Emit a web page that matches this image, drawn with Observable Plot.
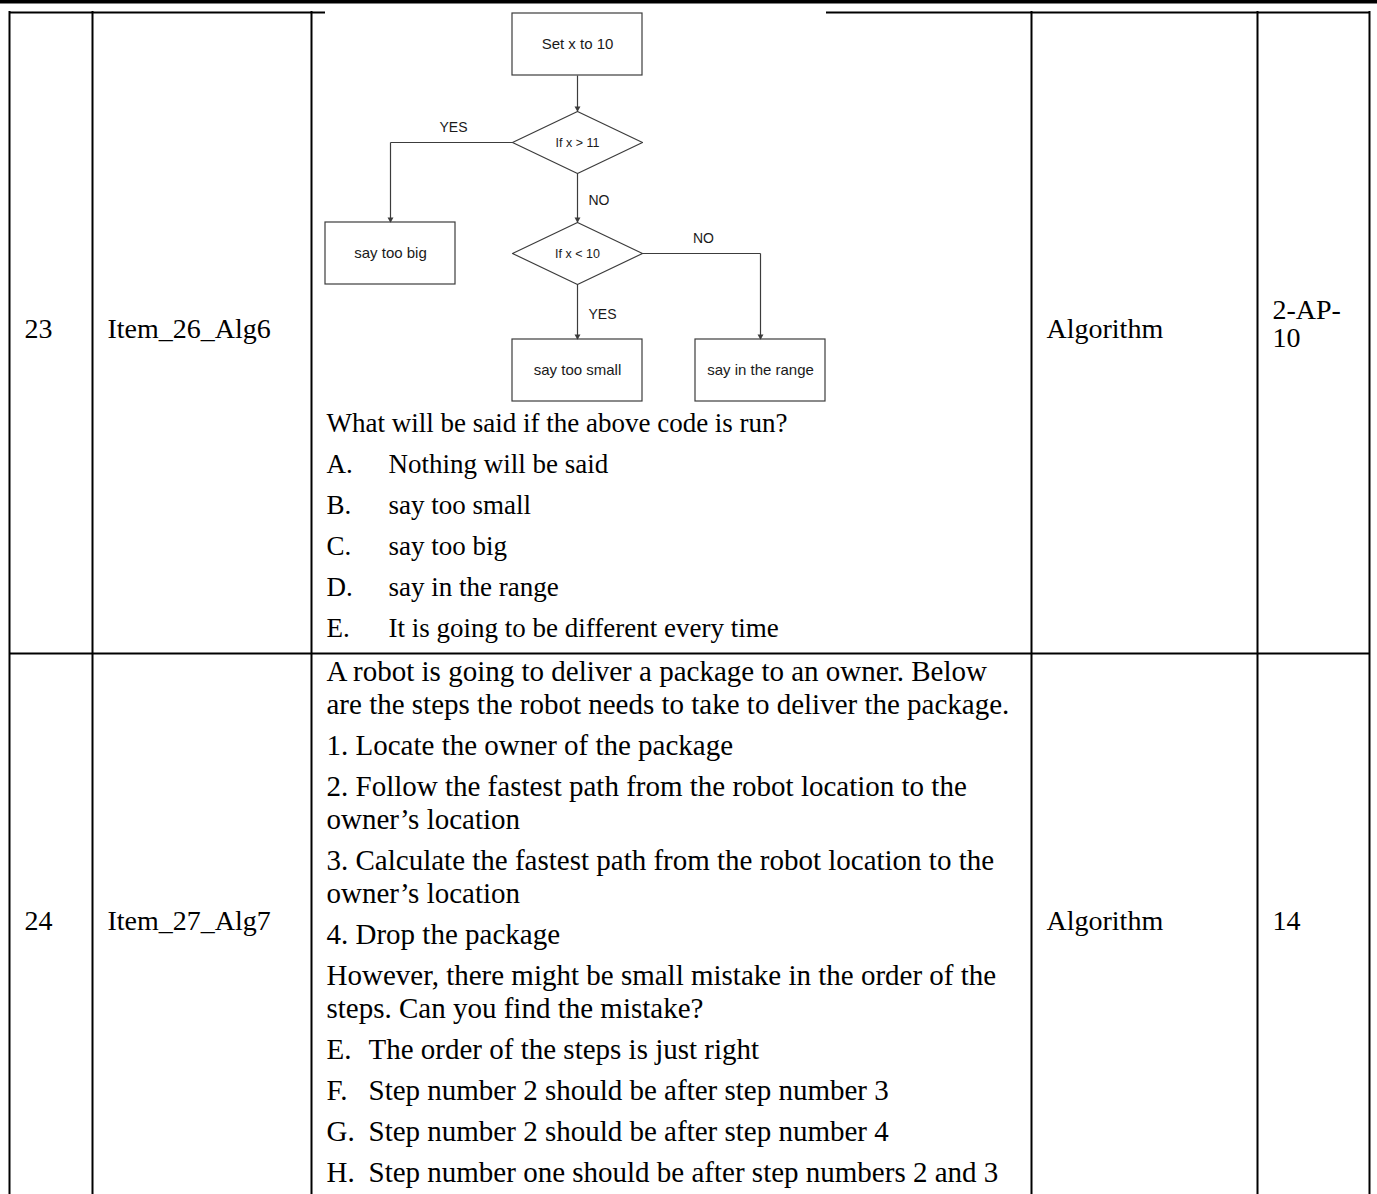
<!DOCTYPE html>
<html><head><meta charset="utf-8">
<script src="https://cdn.jsdelivr.net/npm/d3@7"></script>
<script src="https://cdn.jsdelivr.net/npm/@observablehq/plot@0.6"></script>
<style>
html,body{margin:0;padding:0;background:#fff;overflow:hidden}
#chart svg{display:block}
</style></head><body><div id="chart"></div>
<script>
// ---------------- data ----------------
const rowNumbers = ["23", "24"];
const itemIds = ["Item_26_Alg6", "Item_27_Alg7"];
const concepts = ["Algorithm", "Algorithm"];
const standards = ["2-AP-\n10", "14"];

const flowNodeLabels = ["Set x to 10", "If x > 11", "say too big", "If x < 10", "say too small", "say in the range"];
const flowNodeShapes = ["box", "diamond", "box", "diamond", "box", "box"];
const flowEdgeFrom = [0, 1, 1, 3, 3];
const flowEdgeTo = [1, 2, 3, 4, 5];
const flowEdgeLabels = ["", "YES", "NO", "YES", "NO"];

const q23Prompt = "What will be said if the above code is run?";
const q23Letters = ["A.", "B.", "C.", "D.", "E."];
const q23Options = ["Nothing will be said", "say too small", "say too big", "say in the range", "It is going to be different every time"];

const q24Paragraphs = [
  ["A robot is going to deliver a package to an owner. Below", "are the steps the robot needs to take to deliver the package."],
  ["1. Locate the owner of the package"],
  ["2. Follow the fastest path from the robot location to the", "owner\u2019s location"],
  ["3. Calculate the fastest path from the robot location to the", "owner\u2019s location"],
  ["4. Drop the package"],
  ["However, there might be small mistake in the order of the", "steps. Can you find the mistake?"]
];
const q24Letters = ["E.", "F.", "G.", "H."];
const q24Options = ["The order of the steps is just right", "Step number 2 should be after step number 3", "Step number 2 should be after step number 4", "Step number one should be after step numbers 2 and 3"];

// ---------------- layout ----------------
const L = {
  W: 1377, H: 1194, topBar: 3.5,
  colEdges: [9, 92, 311, 1031, 1257, 1369],
  tableTop: 12, rowDivider: 653, cellPad: 15,
  rowBaselines: [337, 929], sideFont: 28,
  image: {x1: 325, x2: 826},
  fcCols: [390, 577, 760], fcRows: [44, 142, 253, 370], nodeW: 130, nodeH: 62,
  nodeGrid: [[1, 0], [1, 1], [0, 2], [1, 2], [1, 3], [2, 3]],
  r23Prompt: 431, r23Step: 41, r23TextX: 388, r23Font: 27, r23Stretch: 1.18,
  r24First: 680, r24Wrap: 33, r24ParaGap: 41, r24TextX: 368, r24Font: 29,
  justifyRight: 1017
};
const serif = "'Liberation Serif', 'Times New Roman', serif";
const sans = "'Liberation Sans', Arial, sans-serif";
const lineColor = "#3c3c3c";

// ---------------- derived tables ----------------
const cellX = c => L.colEdges[c] + L.cellPad;
const textX = cellX(2);

const sideCells = [];
rowNumbers.forEach((v, i) => sideCells.push({x: cellX(0), y: L.rowBaselines[i], text: v}));
itemIds.forEach((v, i) => sideCells.push({x: cellX(1), y: L.rowBaselines[i], text: v}));
concepts.forEach((v, i) => sideCells.push({x: cellX(3), y: L.rowBaselines[i], text: v}));
standards.forEach((v, i) => sideCells.push({x: cellX(4), y: L.rowBaselines[i] + (v.includes("\n") ? 9 : 0), text: v}));

const q23Lines = [{x: textX, y: L.r23Prompt, text: q23Prompt}];
q23Letters.forEach((v, i) => {
  const y = L.r23Prompt + L.r23Step * (i + 1);
  q23Lines.push({x: textX, y, text: v});
  q23Lines.push({x: L.r23TextX, y, text: q23Options[i]});
});

const q24Plain = [], q24Just = [];
let yy = L.r24First - L.r24ParaGap;
q24Paragraphs.forEach(para => {
  yy += L.r24ParaGap;
  para.forEach((line, k) => {
    if (k > 0) yy += L.r24Wrap;
    const full = k < para.length - 1 || line.startsWith("are the steps");
    (full ? q24Just : q24Plain).push({x: textX, y: yy, text: line});
  });
});
q24Letters.forEach((v, i) => {
  yy += L.r24ParaGap;
  q24Plain.push({x: textX, y: yy, text: v});
  q24Plain.push({x: L.r24TextX, y: yy, text: q24Options[i]});
});

// flowchart geometry
const nodes = flowNodeLabels.map((label, i) => {
  const [c, r] = L.nodeGrid[i];
  const cx = L.fcCols[c], cy = L.fcRows[r];
  return {label, shape: flowNodeShapes[i], cx, cy,
    x1: cx - L.nodeW / 2, x2: cx + L.nodeW / 2, y1: cy - L.nodeH / 2, y2: cy + L.nodeH / 2};
});
const boxes = nodes.filter(n => n.shape === "box");
const diamonds = nodes.filter(n => n.shape === "diamond");
const diamondPts = [];
nodes.forEach((n, i) => {
  if (n.shape !== "diamond") return;
  [[n.cx, n.y1], [n.x2, n.cy], [n.cx, n.y2], [n.x1, n.cy], [n.cx, n.y1]]
    .forEach(([x, y]) => diamondPts.push({id: i, x, y}));
});
const segs = [], tips = [], vLabels = [], hLabels = [];
flowEdgeFrom.forEach((f, i) => {
  const a = nodes[f], b = nodes[flowEdgeTo[i]];
  if (a.cx === b.cx) {
    segs.push({x1: a.cx, y1: a.y2, x2: b.cx, y2: b.y1});
    if (flowEdgeLabels[i]) vLabels.push({x: a.cx + 11, y: (a.y2 + b.y1) / 2 + 3, text: flowEdgeLabels[i]});
  } else {
    const sx = b.cx < a.cx ? a.x1 : a.x2;
    segs.push({x1: sx, y1: a.cy, x2: b.cx, y2: a.cy});
    segs.push({x1: b.cx, y1: a.cy, x2: b.cx, y2: b.y1});
    if (flowEdgeLabels[i]) hLabels.push({x: (sx + b.cx) / 2 + 2, y: a.cy - 15, text: flowEdgeLabels[i]});
  }
  tips.push({x: b.cx, y: b.y1 - 3.2});
});

// table lines
const hLines = [
  {x1: L.colEdges[0], x2: L.image.x1, y: L.tableTop},
  {x1: L.image.x2, x2: L.colEdges[5], y: L.tableTop},
  {x1: L.colEdges[0], x2: L.colEdges[5], y: L.rowDivider}
];

const chart = Plot.plot({
  width: L.W, height: L.H, margin: 0,
  x: {domain: [0, L.W], range: [0, L.W], axis: null},
  y: {domain: [0, L.H], range: [0, L.H], axis: null},
  style: {background: "white"},
  marks: [
    Plot.rect([0], {x1: 0, x2: L.W, y1: 0, y2: L.topBar, fill: "black"}),
    Plot.ruleX(L.colEdges, {x: d => d, y1: L.tableTop - 1, y2: L.H, stroke: "black", strokeWidth: 2}),
    Plot.ruleY(hLines, {y: "y", x1: "x1", x2: "x2", stroke: "black", strokeWidth: 2}),
    // flowchart
    Plot.link(segs, {x1: "x1", y1: "y1", x2: "x2", y2: "y2", stroke: lineColor, strokeWidth: 1.2}),
    Plot.rect(boxes, {x1: "x1", x2: "x2", y1: "y1", y2: "y2", fill: "white", stroke: lineColor, strokeWidth: 1.2}),
    Plot.line(diamondPts, {x: "x", y: "y", z: "id", stroke: lineColor, strokeWidth: 1.2, fill: "white"}),
    Plot.dot(tips, {x: "x", y: "y", symbol: "triangle", rotate: 180, r: 2.2, fill: lineColor, stroke: null}),
    Plot.text(boxes, {x: "cx", y: "cy", text: "label", fontFamily: sans, fontSize: 15, fill: "#1a1a1a", lineAnchor: "middle"}),
    Plot.text(diamonds, {x: "cx", y: "cy", text: "label", fontFamily: sans, fontSize: 12.5, fill: "#1a1a1a", lineAnchor: "middle"}),
    Plot.text(hLabels, {x: "x", y: "y", text: "text", textAnchor: "middle", fontFamily: sans, fontSize: 14, fill: "#1a1a1a", lineAnchor: "middle"}),
    Plot.text(vLabels, {x: "x", y: "y", text: "text", textAnchor: "start", fontFamily: sans, fontSize: 14, fill: "#1a1a1a", lineAnchor: "middle"}),
    // table text
    Plot.text(sideCells, {x: "x", y: "y", text: "text", textAnchor: "start", lineAnchor: "bottom", fontFamily: serif, fontSize: L.sideFont, fill: "black"}),
    Plot.text(q23Lines, {x: "x", y: "y", text: "text", textAnchor: "start", lineAnchor: "bottom", fontFamily: serif, fontSize: L.r23Font, fill: "black", ariaLabel: "q23-body"}),
    Plot.text(q24Plain, {x: "x", y: "y", text: "text", textAnchor: "start", lineAnchor: "bottom", fontFamily: serif, fontSize: L.r24Font, fill: "black"}),
    Plot.text(q24Just, {x: "x", y: "y", text: "text", textAnchor: "start", lineAnchor: "bottom", fontFamily: serif, fontSize: L.r24Font, fill: "black", ariaLabel: "q24-justified"})
  ]
});
document.getElementById("chart").appendChild(chart);

// typographic adjustments: wider face for row 23, justified lines for row 24
d3.select(chart).selectAll('g[aria-label="q23-body"] text').each(function () {
  const w = this.getComputedTextLength();
  this.setAttribute("textLength", (w * L.r23Stretch).toFixed(1));
  this.setAttribute("lengthAdjust", "spacingAndGlyphs");
});
d3.select(chart).selectAll('g[aria-label="q24-justified"] text').each(function () {
  const w = this.getComputedTextLength();
  const target = L.justifyRight - textX;
  this.setAttribute("textLength", target);
  this.setAttribute("lengthAdjust", w > target ? "spacingAndGlyphs" : "spacing");
});
</script>
</body></html>
